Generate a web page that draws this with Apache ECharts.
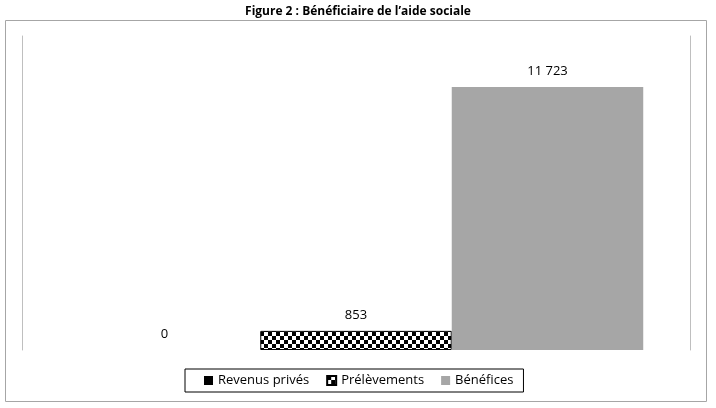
<!DOCTYPE html>
<html lang="fr">
  <head>
    <meta charset="UTF-8" />
    <title>Figure 2</title>
    <style>
      body {
        margin: 0;
        background: #ffffff;
      }
      #chart {
        width: 716px;
        height: 408px;
      }
    </style>
  </head>
  <body>
    <div id="chart"></div>
    <script src="https://cdn.jsdelivr.net/npm/echarts@6/dist/echarts.min.js"></script>
    <script>
      const categories = [""];
      const seriesNames = ["Revenus privés", "Prélèvements", "Bénéfices"];
      const revenus = [0];
      const prelevements = [853];
      const benefices = [11723];

      // damier noir et blanc pour la série Prélèvements
      const cell = 4;
      const tile = document.createElement("canvas");
      tile.width = cell * 2;
      tile.height = cell * 2;
      const ctx = tile.getContext("2d");
      ctx.fillStyle = "#ffffff";
      ctx.fillRect(0, 0, cell * 2, cell * 2);
      ctx.fillStyle = "#000000";
      ctx.fillRect(0, 0, cell, cell);
      ctx.fillRect(cell, cell, cell, cell);

      const fmt = (p) => String(p.value).replace(/\B(?=(\d{3})+(?!\d))/g, " ");
      const font = "'Open Sans', 'Noto Sans', sans-serif";
      const label = {
        show: true,
        position: "top",
        distance: 9,
        color: "#000",
        fontSize: 13,
        fontFamily: font,
        formatter: fmt,
      };

      const chart = echarts.init(document.getElementById("chart"));
      chart.setOption({
        animation: false,
        backgroundColor: "#fff",
        title: {
          text: "Figure 2 : Bénéficiaire de l’aide sociale",
          left: "center",
          top: 1,
          textStyle: { fontSize: 12, fontWeight: "bold", fontFamily: font, color: "#000" },
        },
        graphic: [
          {
            type: "rect",
            shape: { x: 5.5, y: 20.5, width: 701, height: 381 },
            style: { fill: "none", stroke: "#a6a6a6", lineWidth: 1 },
            silent: true,
          },
        ],
        legend: {
          bottom: 16,
          left: 185,
          icon: "rect",
          itemWidth: 9,
          itemHeight: 9,
          itemGap: 17,
          padding: [5, 10, 5, 19],
          borderColor: "#000",
          borderWidth: 1,
          textStyle: { fontSize: 13, fontFamily: font, color: "#000" },
          data: seriesNames,
        },
        grid: { left: 22, right: 26, top: 36, bottom: 58 },
        xAxis: {
          type: "category",
          data: categories,
          axisLine: { show: false },
          axisTick: { show: false },
          axisLabel: { show: false },
        },
        yAxis: [
          {
            type: "value",
            min: 0,
            max: 14000,
            axisLine: { show: true, lineStyle: { color: "#bfbfbf" } },
            axisTick: { show: false },
            axisLabel: { show: false },
            splitLine: { show: false },
          },
          {
            type: "value",
            min: 0,
            max: 14000,
            position: "right",
            axisLine: { show: true, lineStyle: { color: "#bfbfbf" } },
            axisTick: { show: false },
            axisLabel: { show: false },
            splitLine: { show: false },
          },
        ],
        series: [
          {
            name: seriesNames[0],
            type: "bar",
            data: revenus,
            barGap: "0%",
            barCategoryGap: "14%",
            itemStyle: { color: "#000" },
            label: label,
          },
          {
            name: seriesNames[1],
            type: "bar",
            data: prelevements,
            itemStyle: {
              color: { image: tile, repeat: "repeat" },
              borderColor: "#000",
              borderWidth: 1,
            },
            label: label,
          },
          {
            name: seriesNames[2],
            type: "bar",
            data: benefices,
            itemStyle: { color: "#a6a6a6" },
            label: label,
          },
        ],
      });
    </script>
  </body>
</html>
